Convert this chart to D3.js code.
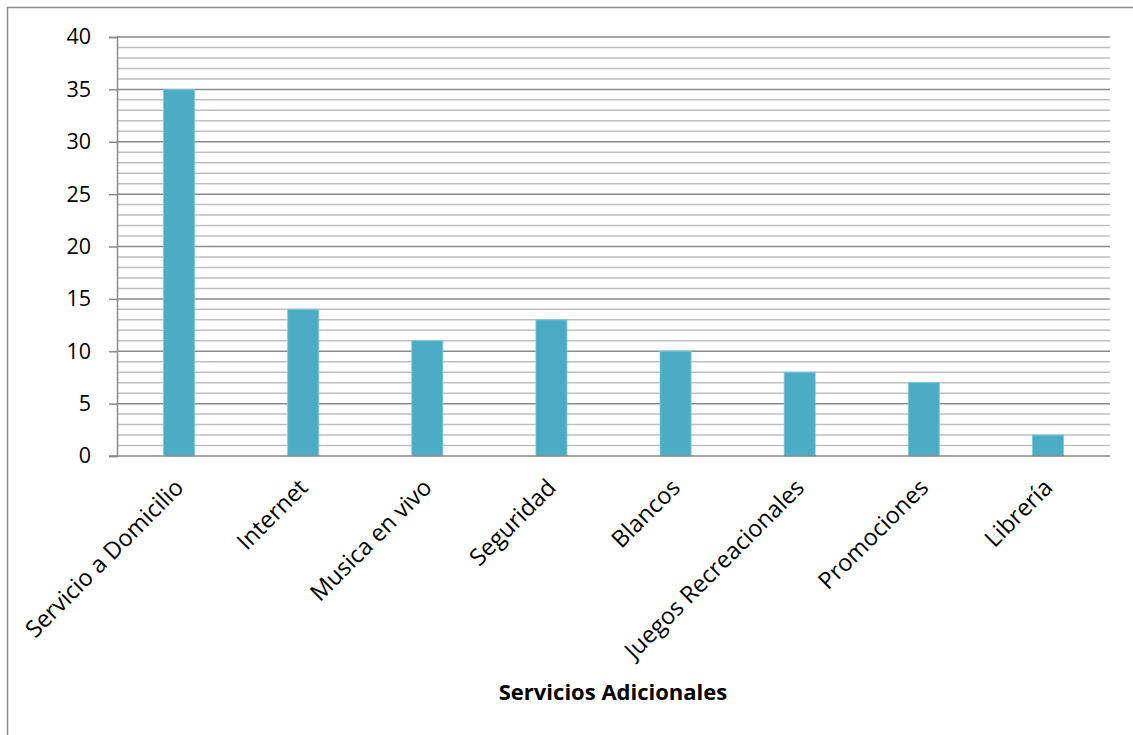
<!DOCTYPE html>
<html>
<head>
<meta charset="utf-8">
<script src="https://cdn.jsdelivr.net/npm/d3@7"></script>
<style>
  html, body { margin: 0; padding: 0; background: #fff; }
  svg { display: block; }
  text { font-family: "Open Sans", sans-serif; fill: #000; }
</style>
</head>
<body>
<svg id="chart" width="1133" height="735"></svg>
<script>
// Additional services and how many respondents asked for each
const categories = ["Servicio a Domicilio", "Internet", "Musica en vivo", "Seguridad",
  "Blancos", "Juegos Recreacionales", "Promociones", "Librería"];
const values = [35, 14, 11, 13, 10, 8, 7, 2];
const yTicks = [0, 5, 10, 15, 20, 25, 30, 35, 40];
const axisTitle = "Servicios Adicionales";

const svg = d3.select("#chart");
const W = 1133, H = 735;
const plot = { left: 117, right: 1110, top: 37, bottom: 456 };

// outer chart frame
svg.append("rect")
  .attr("x", 7.5).attr("y", 7.5)
  .attr("width", W + 20).attr("height", H + 20)
  .attr("fill", "none").attr("stroke", "#8c8c8c").attr("stroke-width", 1.5);

const x = d3.scaleBand().domain(categories).range([plot.left, plot.right]).paddingInner(0).paddingOuter(0);
const y = d3.scaleLinear().domain([0, 40]).range([plot.bottom, plot.top]);

// minor gridlines every unit
const minor = d3.range(1, 40).filter(v => v % 5 !== 0);
svg.append("g").selectAll("line").data(minor).join("line")
  .attr("x1", plot.left).attr("x2", plot.right)
  .attr("y1", d => y(d)).attr("y2", d => y(d))
  .attr("stroke", "#bfbfbf").attr("stroke-width", 1.5);

// major gridlines at the labelled ticks
svg.append("g").selectAll("line").data(yTicks.filter(v => v > 0)).join("line")
  .attr("x1", plot.left).attr("x2", plot.right)
  .attr("y1", d => y(d)).attr("y2", d => y(d))
  .attr("stroke", "#8a8a8a").attr("stroke-width", 1.5);

// bars
const barW = x.bandwidth() * 0.25;
svg.append("g").selectAll("rect").data(values).join("rect")
  .attr("x", (d, i) => x(categories[i]) + x.bandwidth() / 2 - barW / 2)
  .attr("y", d => y(d))
  .attr("width", barW)
  .attr("height", d => y(0) - y(d))
  .attr("fill", "#4bacc6")
  .attr("stroke", "#7cc8da").attr("stroke-width", 0.8);

// y axis
const yAxis = d3.axisLeft(y).tickValues(yTicks).tickSize(8).tickPadding(18);
const gy = svg.append("g").attr("transform", `translate(${plot.left},0)`).call(yAxis);
gy.select(".domain").attr("stroke", "#8a8a8a").attr("stroke-width", 1.5);
gy.selectAll(".tick line").attr("stroke", "#8a8a8a").attr("stroke-width", 1.5);
gy.selectAll(".tick text")
  .attr("font-family", "'Open Sans', sans-serif")
  .attr("font-size", 21.5).attr("fill", "#000");

// x axis baseline
svg.append("line")
  .attr("x1", plot.left - 8).attr("x2", plot.right)
  .attr("y1", y(0)).attr("y2", y(0))
  .attr("stroke", "#8a8a8a").attr("stroke-width", 1.5);

// rotated category labels
svg.append("g").selectAll("text").data(categories).join("text")
  .attr("transform", d => `translate(${x(d) + x.bandwidth() / 2 + 6},${plot.bottom + 33}) rotate(-45)`)
  .attr("text-anchor", "end")
  .attr("font-size", 23.5)
  .text(d => d);

// axis title
svg.append("text")
  .attr("x", 613).attr("y", 700)
  .attr("text-anchor", "middle")
  .attr("font-size", 22).attr("font-weight", "bold")
  .text(axisTitle);
</script>
</body>
</html>
